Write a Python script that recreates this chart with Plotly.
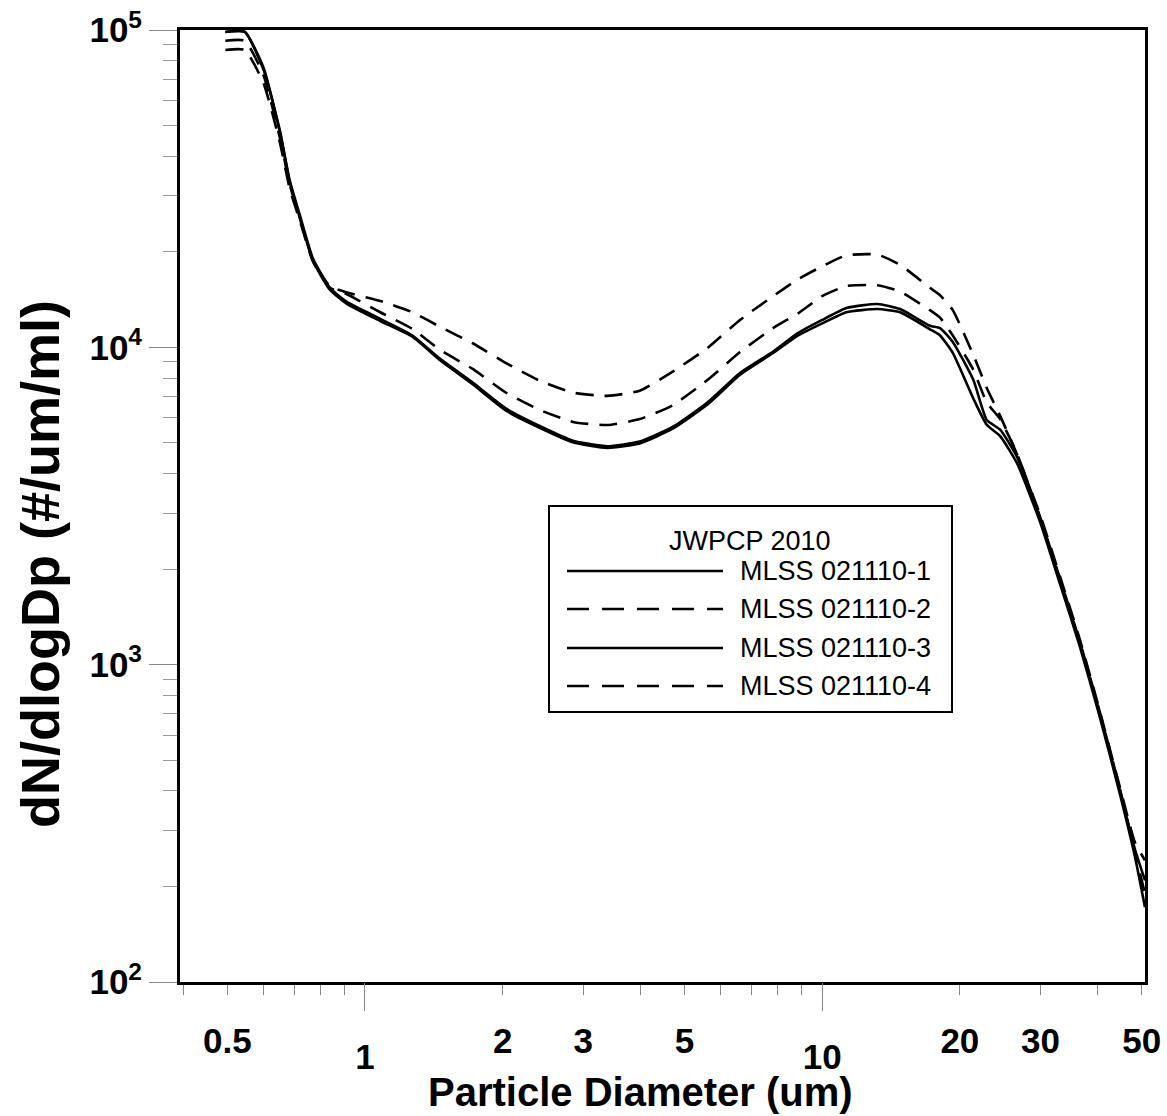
import plotly.graph_objects as go

# ---------------- data ----------------
diameter_um = [0.495, 0.546, 0.60, 0.652, 0.685, 0.721, 0.77, 0.838, 0.913, 1.08,
               1.27, 1.46, 1.72, 2.04, 2.41, 2.85, 3.39, 3.99, 4.72, 5.61,
               6.61, 7.81, 8.86, 10.0, 11.3, 13.2, 14.8, 17.2, 18.1, 19.3,
               21.4, 22.9, 24.5, 26.7, 30.0, 33.1, 36.6, 40.4, 44.8, 48.3, 50.8]

mlss_1 = [98600, 98600, 76000, 47400, 33500, 26000, 19000, 15400, 13900, 12300,
          10900, 9200, 7750, 6400, 5650, 5080, 4880, 5050, 5620, 6700,
          8300, 9700, 11100, 12200, 13300, 13700, 13200, 11700, 11500, 10400,
          7900, 5900, 5500, 4500, 2880, 1850, 1170, 705, 400, 262, 209]

mlss_2 = [92500, 92500, 72000, 45500, 32500, 25500, 18800, 15600, 14900, 14000,
          12900, 11600, 10300, 8900, 7850, 7200, 7030, 7300, 8400, 9950,
          12200, 14500, 16400, 18000, 19500, 19600, 18200, 15400, 14600, 13100,
          9460, 7450, 6080, 4580, 2950, 1900, 1200, 720, 410, 275, 242]

mlss_3 = [98600, 98600, 75000, 48000, 33000, 25500, 18700, 15200, 13700, 12100,
          10800, 9100, 7650, 6300, 5580, 5020, 4820, 4980, 5550, 6600,
          8200, 9600, 10900, 11900, 12900, 13200, 12900, 11400, 10900, 9600,
          6900, 5700, 5250, 4300, 2800, 1800, 1140, 690, 390, 248, 172]

mlss_4 = [86500, 86500, 68000, 44000, 31500, 25000, 18600, 15400, 14700, 12900,
          11430, 9810, 8550, 7180, 6350, 5820, 5690, 5940, 6580, 7890,
          9660, 11500, 12800, 14500, 15600, 15700, 15000, 13100, 12400, 10900,
          8500, 6700, 5940, 4600, 2900, 1870, 1180, 715, 405, 255, 190]

series_names = ["MLSS 021110-1", "MLSS 021110-2", "MLSS 021110-3", "MLSS 021110-4"]
series_values = [mlss_1, mlss_2, mlss_3, mlss_4]
series_dash = ["solid", "18px,11px", "solid", "18px,11px"]
legend_title = "JWPCP 2010"

# upper row of x tick labels, and the lower (long-tick) row
x_tick_vals = [0.5, 2, 3, 5, 20, 30, 50]
x_tick_text = ["0.5", "2", "3", "5", "20", "30", "50"]
x_long_vals = [1, 10]
x_long_text = ["1", "10"]
x_minor_vals = [0.4, 0.6, 0.7, 0.8, 0.9, 4, 6, 7, 8, 9, 40]

y_tick_vals = [100, 1000, 10000, 100000]
y_tick_text = ["10<sup>2</sup>", "10<sup>3</sup>", "10<sup>4</sup>", "10<sup>5</sup>"]
y_minor_vals = [m * 10 ** e for e in (2, 3, 4) for m in range(2, 10)]

x_title = "Particle Diameter (um)"
y_title = "dN/dlogDp (#/um/ml)"

# ---------------- figure ----------------
W, H = 1167, 1116
ML, MR, MT, MB = 180, 22, 30, 134
PW, PH = W - ML - MR, H - MT - MB


def px_x(px):
    return (px - ML) / PW


def px_y(py):
    return (H - MB - py) / PH


FONT = "Liberation Sans, Arial, Helvetica, sans-serif"
TICKFONT = dict(size=35, family=FONT, weight="bold", color="black")

fig = go.Figure()
for name, vals, dash in zip(series_names, series_values, series_dash):
    fig.add_trace(go.Scatter(
        x=diameter_um, y=vals, name=name, mode="lines",
        line=dict(color="black", width=2.6, dash=dash, shape="spline", smoothing=0.5),
        showlegend=False,
    ))

# empty carrier so the second (long-tick) x axis gets drawn
fig.add_trace(go.Scatter(x=[], y=[], xaxis="x2", yaxis="y", mode="lines",
                         showlegend=False, hoverinfo="skip"))

x_range = [-0.4045, 1.7059]

fig.update_layout(
    width=W, height=H,
    margin=dict(l=ML, r=MR, t=MT, b=MB, autoexpand=False),
    paper_bgcolor="white", plot_bgcolor="white",
    font=dict(family=FONT, color="black"),
    xaxis=dict(
        type="log", range=x_range, automargin=False,
        tickvals=x_tick_vals, ticktext=x_tick_text,
        ticks="outside", ticklen=10, tickwidth=1, tickcolor="#888",
        tickfont=TICKFONT, ticklabelstandoff=16,
        showgrid=False, zeroline=False,
        showline=True, linecolor="black", linewidth=3, mirror=True,
        minor=dict(tickvals=x_minor_vals, ticks="outside", ticklen=10,
                   tickwidth=1, tickcolor="#888", showgrid=False),
    ),
    xaxis2=dict(
        type="log", range=x_range, overlaying="x", anchor="y", side="bottom",
        automargin=False,
        tickvals=x_long_vals, ticktext=x_long_text,
        ticks="outside", ticklen=28, tickwidth=1, tickcolor="#888",
        tickfont=TICKFONT, ticklabelstandoff=16,
        showgrid=False, zeroline=False, showline=False,
    ),
    yaxis=dict(
        type="log", range=[2, 5], automargin=False,
        tickvals=y_tick_vals, ticktext=y_tick_text,
        ticks="outside", ticklen=28, tickwidth=1, tickcolor="#888",
        tickfont=TICKFONT,
        showgrid=False, zeroline=False,
        showline=True, linecolor="black", linewidth=3, mirror=True,
        minor=dict(tickvals=y_minor_vals, ticks="outside", ticklen=14,
                   tickwidth=1, tickcolor="#999", showgrid=False),
    ),
)

annotations = [
    dict(text=f"<b>{x_title}</b>", xref="paper", yref="paper",
         x=px_x(640), y=px_y(1092), xanchor="center", yanchor="middle",
         showarrow=False, font=dict(size=40, family=FONT)),
    dict(text=f"<b>{y_title}</b>", xref="paper", yref="paper",
         x=px_x(40), y=px_y(564), xanchor="center", yanchor="middle",
         textangle=-90, showarrow=False, font=dict(size=54, family=FONT)),
]

# ---------------- custom legend box ----------------
shapes = [dict(type="rect", xref="paper", yref="paper",
               x0=px_x(549), x1=px_x(952), y0=px_y(506), y1=px_y(712),
               line=dict(color="black", width=2), fillcolor="white", layer="above")]
annotations.append(dict(text=legend_title, xref="paper", yref="paper",
                        x=px_x(750), y=px_y(541), xanchor="center", yanchor="middle",
                        showarrow=False, font=dict(size=27, family=FONT)))
row_y = [571, 609, 648, 686]
legend_dash = ["solid", "22px,13px", "solid", "22px,13px"]
for name, ry, dash in zip(series_names, row_y, legend_dash):
    shapes.append(dict(type="line", xref="paper", yref="paper",
                       x0=px_x(567), x1=px_x(723), y0=px_y(ry), y1=px_y(ry),
                       line=dict(color="black", width=2.4, dash=dash), layer="above"))
    annotations.append(dict(text=name, xref="paper", yref="paper",
                            x=px_x(738), y=px_y(ry), xanchor="left", yanchor="middle",
                            showarrow=False, font=dict(size=27, family=FONT)))

fig.update_layout(shapes=shapes, annotations=annotations)

fig.write_html("out.html")
